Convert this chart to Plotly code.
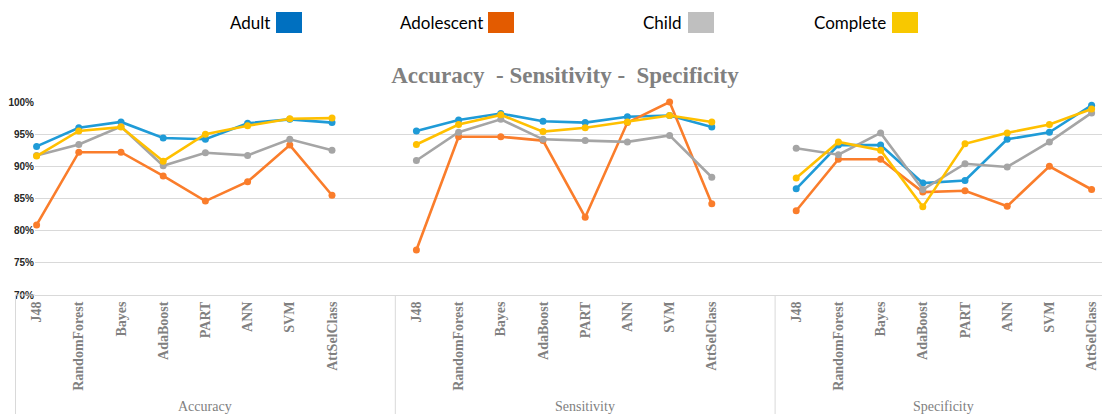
import plotly.graph_objects as go

# ---------------- data ----------------
classifiers = ["J48", "RandomForest", "Bayes", "AdaBoost", "PART", "ANN", "SVM", "AttSelClass"]
metrics = ["Accuracy", "Sensitivity", "Specificity"]

adult_accuracy = [93.1, 96.0, 96.9, 94.4, 94.2, 96.7, 97.3, 96.8]
adult_sensitivity = [95.5, 97.2, 98.2, 97.0, 96.8, 97.7, 97.9, 96.1]
adult_specificity = [86.5, 93.3, 93.3, 87.4, 87.8, 94.2, 95.3, 99.5]

adolescent_accuracy = [80.9, 92.2, 92.2, 88.5, 84.6, 87.6, 93.3, 85.5]
adolescent_sensitivity = [77.0, 94.6, 94.6, 94.0, 82.1, 96.8, 100.0, 84.2]
adolescent_specificity = [83.1, 91.1, 91.1, 86.0, 86.2, 83.8, 90.0, 86.4]

child_accuracy = [91.7, 93.4, 96.2, 90.1, 92.1, 91.7, 94.2, 92.5]
child_sensitivity = [90.9, 95.3, 97.3, 94.2, 94.0, 93.8, 94.8, 88.3]
child_specificity = [92.8, 91.8, 95.2, 86.4, 90.4, 89.9, 93.8, 98.3]

complete_accuracy = [91.6, 95.5, 96.1, 90.8, 95.0, 96.3, 97.4, 97.5]
complete_sensitivity = [93.4, 96.5, 98.0, 95.4, 96.0, 96.9, 97.9, 96.9]
complete_specificity = [88.2, 93.8, 92.5, 83.7, 93.5, 95.2, 96.5, 98.9]

series = [
    ("Adult", [adult_accuracy, adult_sensitivity, adult_specificity], "#1F9BD7", "#0070C0"),
    ("Adolescent", [adolescent_accuracy, adolescent_sensitivity, adolescent_specificity], "#FA7D2B", "#E35B00"),
    ("Child", [child_accuracy, child_sensitivity, child_specificity], "#A5A5A5", "#BFBFBF"),
    ("Complete", [complete_accuracy, complete_sensitivity, complete_specificity], "#FFC000", "#F8C800"),
]

# ---------------- layout helpers ----------------
W, H = 1102, 414
ML, MR, MT, MB = 35, 0, 102, 119
PW, PH = W - ML - MR, H - MT - MB
SLOTS = len(classifiers) + 1  # one empty slot between groups
SLOT_PX = 42.2


def px_x(p):
    return (p - ML) / PW


def px_y(p):
    return (H - MB - p) / PH


fig = go.Figure()

tickvals, ticktext = [], []
for g, m in enumerate(metrics):
    for i, c in enumerate(classifiers):
        tickvals.append(g * SLOTS + i)
        ticktext.append(c)

for name, groups, lc, _ in series:
    xs, ys = [], []
    for g, vals in enumerate(groups):
        for i, v in enumerate(vals):
            xs.append(g * SLOTS + i)
            ys.append(v / 100)
        xs.append(None)
        ys.append(None)
    fig.add_trace(go.Scatter(
        x=xs, y=ys, name=name, mode="lines+markers",
        line=dict(color=lc, width=2.6),
        marker=dict(color=lc, size=7),
        cliponaxis=False, connectgaps=False, showlegend=False,
    ))

grid = "#D9D9D9"
shapes = []
# group dividers
for g in range(1, len(metrics)):
    b = g * SLOTS - 0.5
    shapes.append(dict(type="line", xref="x", yref="paper", x0=b, x1=b, y0=0, y1=px_y(H + 2),
                       line=dict(color=grid, width=1)))
# left boundary of category axis
shapes.append(dict(type="line", xref="paper", yref="paper", x0=px_x(15.5), x1=px_x(15.5),
                   y0=0, y1=px_y(H + 2), line=dict(color=grid, width=1)))
shapes.append(dict(type="line", xref="paper", yref="paper", x0=px_x(15.5), x1=0,
                   y0=0, y1=0, line=dict(color=grid, width=1)))

annotations = []
# group labels
for g, m in enumerate(metrics):
    start = g * SLOTS - 0.5
    end = start + (SLOTS if g < len(metrics) - 1 else len(classifiers))
    annotations.append(dict(text=m, x=(start + end) / 2, xref="x", y=px_y(407), yref="paper",
                            showarrow=False, xanchor="center", yanchor="middle",
                            font=dict(family="Liberation Serif", size=14, color="#7F7F7F")))

# custom legend: text followed by a colour square
legend_pos = [(272, 276), (485, 488), (683, 688), (888, 892)]
for (name, _, _, sc), (tx, sx) in zip(series, legend_pos):
    annotations.append(dict(text=name, x=px_x(tx), xref="paper", y=px_y(22), yref="paper",
                            showarrow=False, xanchor="right", yanchor="middle",
                            font=dict(family="Lato", size=17, color="#000000")))
    shapes.append(dict(type="rect", xref="paper", yref="paper",
                       x0=px_x(sx), x1=px_x(sx + 26), y0=px_y(33), y1=px_y(12),
                       fillcolor=sc, line=dict(width=0)))

x0 = -0.5 + (ML - 15.5) / SLOT_PX
fig.update_layout(
    width=W, height=H,
    margin=dict(l=ML, r=MR, t=MT, b=MB, pad=0),
    paper_bgcolor="white", plot_bgcolor="white",
    title=dict(text="Accuracy&nbsp; - Sensitivity -&nbsp; Specificity",
               x=565 / W, xanchor="center", y=1 - 75 / H, yanchor="middle",
               font=dict(family="Liberation Serif", size=23, color="#808080", weight="bold")),
    shapes=shapes, annotations=annotations,
    xaxis=dict(range=[x0, x0 + PW / SLOT_PX],
               tickmode="array", tickvals=tickvals, ticktext=ticktext, tickangle=-90,
               tickfont=dict(family="Liberation Serif", size=14, color="#808080", weight="bold"),
               showgrid=False, zeroline=False, showline=True, linecolor=grid, linewidth=1,
               ticks="", ticklen=0),
    yaxis=dict(range=[0.70, 1.00], tickformat=".0%", dtick=0.05,
               tickfont=dict(family="Liberation Sans", size=10, color="#262626", weight="bold"),
               showgrid=True, gridcolor=grid, gridwidth=1, zeroline=False, showline=False,
               ticks="", ticklen=0),
)

fig.write_html("out.html", config={"displayModeBar": False},
               post_script="document.body.style.margin='0';document.body.style.overflow='hidden';")
